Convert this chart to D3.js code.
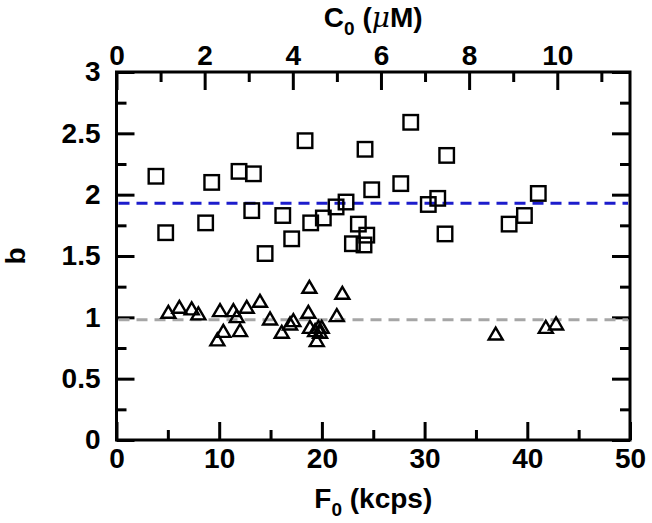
<!DOCTYPE html>
<html><head><meta charset="utf-8">
<script src="https://cdn.jsdelivr.net/npm/d3@7"></script>
<style>
body{margin:0;background:#fff;}
svg{display:block;font-family:"Liberation Sans",Arial,Helvetica,sans-serif;font-weight:bold;}
</style></head>
<body><svg id="c" width="652" height="523"></svg>
<script>
// ---- data ----
const squaresF0 = [3.84,4.79,9.27,8.68,11.93,13.33,13.17,14.47,16.19,17.06,18.36,18.91,20.14,21.38,22.35,23.55,24.37,22.97,24.1,24.2,24.85,28.65,27.68,32.15,31.28,30.36,31.99,41.07,39.72,38.23];
const squaresB  = [2.15,1.69,2.10,1.77,2.19,2.17,1.87,1.52,1.83,1.64,2.44,1.77,1.81,1.90,1.94,1.76,1.67,1.60,1.59,2.37,2.04,2.59,2.09,2.32,1.97,1.92,1.68,2.01,1.83,1.76];
const trianglesF0 = [5.05,6.12,7.32,7.97,10.08,10.4,9.82,11.38,11.71,12.03,12.68,13.97,14.95,16.09,16.9,17.22,18.78,18.68,18.84,19.34,19.66,19.5,19.98,19.82,21.45,21.99,36.92,41.8,42.8];
const trianglesB  = [1.045,1.086,1.073,1.032,1.059,0.89,0.82,1.059,1.01,0.896,1.086,1.135,0.991,0.882,0.95,0.977,1.249,1.045,0.922,0.896,0.922,0.814,0.922,0.882,1.018,1.2,0.868,0.922,0.95];
const meanSquares = 1.93;
const meanTriangles = 0.98;
const xDomain = [0, 50];
const yDomain = [0, 3];
const topDomain = [0, 11.65];
const xMajorTicks = [0,10,20,30,40,50];
const xMinorTicks = [5,15,25,35,45];
const yMajorTicks = [0,0.5,1,1.5,2,2.5,3];
const yMinorTicks = [0.25,0.75,1.25,1.75,2.25,2.75];
const topMajorTicks = [0,2,4,6,8,10];
const topMinorTicks = [1,3,5,7,9,11];

// ---- layout ----
const L = 116.5, R = 630, T = 72, B = 440;
const svg = d3.select("#c");
const x = d3.scaleLinear().domain(xDomain).range([L, R]);
const xt = d3.scaleLinear().domain(topDomain).range([L, R]);
const y = d3.scaleLinear().domain(yDomain).range([B, T]);
const fs = 28;
const yfmt = d => d === 0 ? "0" : d3.format("")(d);

function styleAxis(g){
  g.select(".domain").remove();
  g.selectAll(".tick line").attr("stroke","#000").attr("stroke-width",3);
  g.selectAll(".tick text").attr("font-size",fs).attr("font-weight","bold").attr("fill","#000")
    .attr("font-family","'Liberation Sans',Arial,sans-serif");
}

// bottom
svg.append("g").attr("transform",`translate(0,${B})`)
  .call(d3.axisBottom(x).tickValues(xMinorTicks).tickSize(-10).tickFormat("")).call(styleAxis);
svg.append("g").attr("transform",`translate(0,${B})`)
  .call(d3.axisBottom(x).tickValues(xMajorTicks).tickSize(-18).tickPadding(8).tickFormat(d3.format("d"))).call(styleAxis);
// top
svg.append("g").attr("transform",`translate(0,${T})`)
  .call(d3.axisTop(xt).tickValues(topMinorTicks).tickSize(-10).tickFormat("")).call(styleAxis);
svg.append("g").attr("transform",`translate(0,${T})`)
  .call(d3.axisTop(xt).tickValues(topMajorTicks).tickSize(-18).tickPadding(7).tickFormat(d3.format("d"))).call(styleAxis);
// left
svg.append("g").attr("transform",`translate(${L},0)`)
  .call(d3.axisLeft(y).tickValues(yMinorTicks).tickSize(-10).tickFormat("")).call(styleAxis);
svg.append("g").attr("transform",`translate(${L},0)`)
  .call(d3.axisLeft(y).tickValues(yMajorTicks).tickSize(-18).tickPadding(16).tickFormat(yfmt)).call(styleAxis);
// right
svg.append("g").attr("transform",`translate(${R},0)`)
  .call(d3.axisRight(y).tickValues(yMinorTicks).tickSize(-10).tickFormat("")).call(styleAxis);
svg.append("g").attr("transform",`translate(${R},0)`)
  .call(d3.axisRight(y).tickValues(yMajorTicks).tickSize(-18).tickFormat("")).call(styleAxis);

// frame
svg.append("rect").attr("x",L).attr("y",T).attr("width",R-L).attr("height",B-T)
  .attr("fill","none").attr("stroke","#000").attr("stroke-width",3);

// mean lines
svg.append("line").attr("x1",L+2).attr("x2",R-2).attr("y1",y(meanTriangles)).attr("y2",y(meanTriangles))
  .attr("stroke","#a6a6a6").attr("stroke-width",3).attr("stroke-dasharray","11,7");
svg.append("line").attr("x1",L+2).attr("x2",R-2).attr("y1",y(meanSquares)).attr("y2",y(meanSquares))
  .attr("stroke","#1c1ccc").attr("stroke-width",3).attr("stroke-dasharray","11,7");

// squares
const sq = 14.5;
svg.append("g").selectAll("rect").data(d3.range(squaresF0.length)).join("rect")
  .attr("x",i=>x(squaresF0[i])-sq/2).attr("y",i=>y(squaresB[i])-sq/2)
  .attr("width",sq).attr("height",sq).attr("fill","none").attr("stroke","#000").attr("stroke-width",2.4);

// triangles
const tw = 14, th = 12;
svg.append("g").selectAll("path").data(d3.range(trianglesF0.length)).join("path")
  .attr("d",i=>{const cx=x(trianglesF0[i]), cy=y(trianglesB[i]);
    return `M${cx},${cy-th/2}L${cx+tw/2},${cy+th/2}L${cx-tw/2},${cy+th/2}Z`;})
  .attr("fill","none").attr("stroke","#000").attr("stroke-width",2.4).attr("stroke-linejoin","miter");

// titles
const bt = svg.append("text").attr("x",(L+R)/2).attr("y",508).attr("text-anchor","middle")
  .attr("font-size",fs).attr("font-weight","bold");
bt.append("tspan").text("F");
bt.append("tspan").attr("font-size",19).attr("dy",8).text("0");
bt.append("tspan").attr("dy",-8).text(" (kcps)");

const tt = svg.append("text").attr("x",(L+R)/2).attr("y",27).attr("text-anchor","middle")
  .attr("font-size",fs).attr("font-weight","bold");
tt.append("tspan").text("C");
tt.append("tspan").attr("font-size",19).attr("dy",8).text("0");
tt.append("tspan").attr("dy",-8).text(" (");
tt.append("tspan").attr("font-style","italic").attr("font-weight","normal").attr("font-family","'DejaVu Serif','Liberation Serif',serif").text("μ");
tt.append("tspan").text("M)");

svg.append("text").attr("transform",`translate(25,${(T+B)/2}) rotate(-90)`).attr("text-anchor","middle")
  .attr("font-size",fs).attr("font-weight","bold").text("b");
</script></body></html>
